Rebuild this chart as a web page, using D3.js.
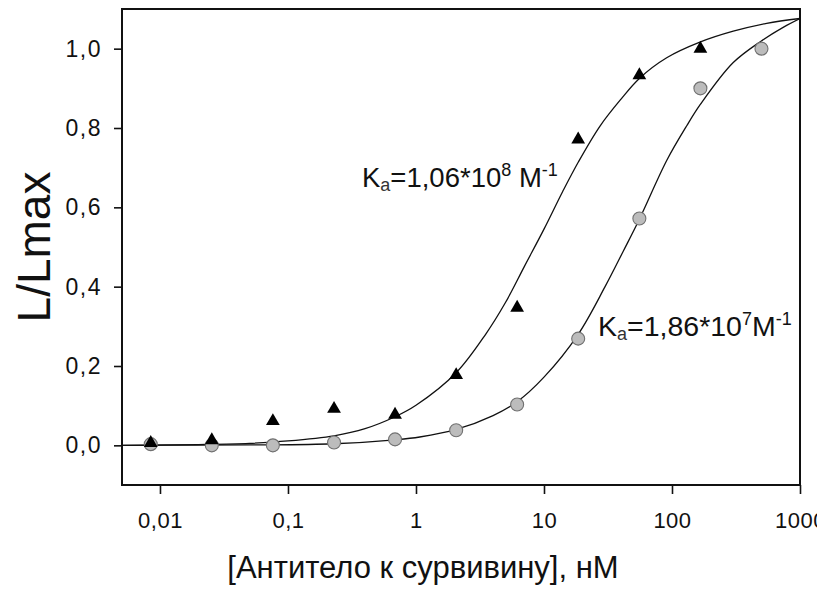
<!DOCTYPE html>
<html>
<head>
<meta charset="utf-8">
<script src="https://cdn.jsdelivr.net/npm/d3@7"></script>
<style>
  html, body { margin: 0; padding: 0; background: #fff; }
  svg { display: block; font-family: "Liberation Sans", Arial, sans-serif; }
</style>
</head>
<body>
<svg id="chart" width="817" height="593"></svg>
<script>
// ---- data ----
const concentrations = [0.00847, 0.0254, 0.0762, 0.229, 0.686, 2.06, 6.17, 18.5, 55.6, 166.7, 500]; // nM
const triangleValues = [0.006, 0.013, 0.061, 0.092, 0.077, 0.177, 0.347, 0.771, 0.933, 1.0];
const circleValues   = [0.003, 0.0, 0.0, 0.007, 0.015, 0.038, 0.103, 0.269, 0.572, 0.90, 1.0];

// fitted curves
const triFitX = [0.00505, 0.02, 0.05, 0.1, 0.229, 0.4, 0.686, 1.0, 2.06, 3.5, 5, 7, 10, 14, 18.6, 27.4, 40, 55.6, 90.9, 167, 301, 549, 1000];
const triFitY = [0.0, 0.002, 0.005, 0.011, 0.024, 0.042, 0.072, 0.101, 0.183, 0.28, 0.36, 0.45, 0.545, 0.64, 0.715, 0.805, 0.873, 0.925, 0.977, 1.017, 1.044, 1.064, 1.076];
const cirFitX = [0.00505, 0.05, 0.229, 0.686, 1.07, 2.06, 4, 6.17, 10, 18.5, 30, 41.7, 55.6, 90.9, 130, 167, 301, 502, 750, 1000];
const cirFitY = [0.0, 0.001, 0.004, 0.014, 0.021, 0.04, 0.075, 0.11, 0.172, 0.28, 0.40, 0.49, 0.57, 0.718, 0.805, 0.86, 0.965, 1.02, 1.055, 1.076];

const yTicks = [0, 0.2, 0.4, 0.6, 0.8, 1.0];
const xTicks = [0.01, 0.1, 1, 10, 100, 1000];
const xTickLabels = ["0,01", "0,1", "1", "10", "100", "1000"];
const yTitle = "L/Lmax";
const xTitle = "[Антитело к сурвивину], нМ";

// ---- layout ----
const W = 817, H = 593;
const margin = {left: 122, top: 9, right: 17, bottom: 108};
const svg = d3.select("#chart");

const x = d3.scaleLog().domain([0.00505, 1000]).range([margin.left, W - margin.right]);
const y = d3.scaleLinear().domain([-0.1, 1.1]).range([H - margin.bottom, margin.top]);

// clip
svg.append("defs").append("clipPath").attr("id", "plotclip")
  .append("rect")
  .attr("x", margin.left).attr("y", margin.top)
  .attr("width", W - margin.left - margin.right)
  .attr("height", H - margin.top - margin.bottom);

// axes
const yAxis = d3.axisLeft(y).tickValues(yTicks).tickSize(8).tickPadding(12)
  .tickFormat(d => d3.format(".1f")(d).replace(".", ","));
const gy = svg.append("g").attr("transform", `translate(${margin.left},0)`).call(yAxis);
gy.select(".domain").remove();
gy.selectAll(".tick line").attr("stroke", "#111").attr("stroke-width", 1.6);
gy.selectAll(".tick text").attr("font-size", 23).attr("fill", "#111")
  .attr("letter-spacing", 1.5)
  .attr("font-family", "Liberation Sans, Arial, sans-serif");

const xAxis = d3.axisBottom(x).tickValues(xTicks).tickSize(9).tickPadding(18)
  .tickFormat((d, i) => xTickLabels[i]);
const gx = svg.append("g").attr("transform", `translate(0,${H - margin.bottom})`).call(xAxis);
gx.select(".domain").remove();
gx.selectAll(".tick line").attr("stroke", "#111").attr("stroke-width", 1.6);
gx.selectAll(".tick text").attr("font-size", 22).attr("fill", "#111")
  .attr("letter-spacing", 0.5)
  .attr("font-family", "Liberation Sans, Arial, sans-serif");

// frame
svg.append("rect")
  .attr("x", margin.left).attr("y", margin.top)
  .attr("width", W - margin.left - margin.right)
  .attr("height", H - margin.top - margin.bottom)
  .attr("fill", "none").attr("stroke", "#111").attr("stroke-width", 2);

// curves
const line = d3.line().x(d => x(d[0])).y(d => y(d[1])).curve(d3.curveCatmullRom.alpha(0.5));
const plot = svg.append("g").attr("clip-path", "url(#plotclip)");
plot.append("path").datum(d3.zip(triFitX, triFitY))
  .attr("d", line).attr("fill", "none").attr("stroke", "#111").attr("stroke-width", 1.3);
plot.append("path").datum(d3.zip(cirFitX, cirFitY))
  .attr("d", line).attr("fill", "none").attr("stroke", "#111").attr("stroke-width", 1.3);

// circles
plot.selectAll("circle.pt").data(d3.zip(concentrations, circleValues)).join("circle")
  .attr("class", "pt")
  .attr("cx", d => x(d[0])).attr("cy", d => y(d[1])).attr("r", 6.5)
  .attr("fill", "#bcbcbc").attr("stroke", "#707070").attr("stroke-width", 1.1);

// triangles
const tri = d3.symbol().type(d3.symbolTriangle).size(82);
plot.selectAll("path.tri").data(d3.zip(concentrations.slice(0, triangleValues.length), triangleValues)).join("path")
  .attr("class", "tri")
  .attr("d", tri)
  .attr("transform", d => `translate(${x(d[0])},${y(d[1])})`)
  .attr("fill", "#000");

// annotations
function ka(xPos, yPos, mant, exp, space, size) {
  const t = svg.append("text").attr("x", xPos).attr("y", yPos)
    .attr("font-size", size).attr("fill", "#111");
  t.append("tspan").text("K");
  t.append("tspan").attr("font-size", 18).attr("dy", 4).attr("fill", "#333").text("a");
  t.append("tspan").attr("dy", -4).text("=" + mant + "*10");
  t.append("tspan").attr("font-size", 18).attr("dy", -11).text(exp);
  t.append("tspan").attr("dy", 11).text((space ? " " : "") + "M");
  t.append("tspan").attr("font-size", 18).attr("dy", -11).text("-1");
}
ka(362, 187, "1,06", "8", true, 27.5);
ka(598, 336, "1,86", "7", false, 28.5);

// titles
svg.append("text")
  .attr("transform", `translate(50,247) rotate(-90)`)
  .attr("text-anchor", "middle")
  .attr("font-size", 46).attr("fill", "#111")
  .text(yTitle);
svg.append("text")
  .attr("x", 423).attr("y", 578)
  .attr("text-anchor", "middle")
  .attr("font-size", 31).attr("fill", "#111")
  .text(xTitle);
</script>
</body>
</html>
